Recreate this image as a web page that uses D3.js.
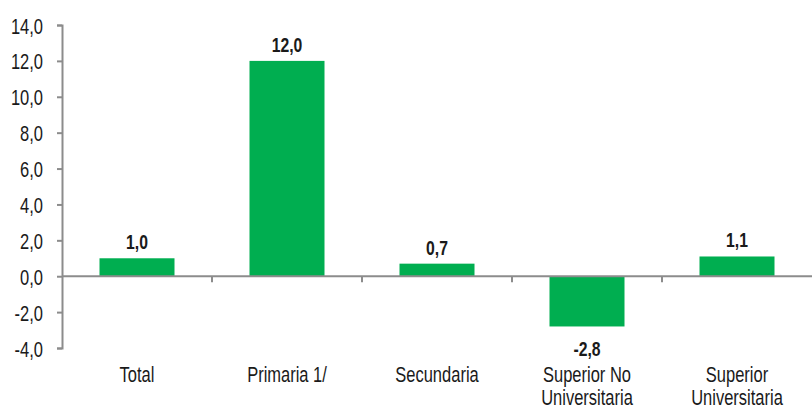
<!DOCTYPE html>
<html>
<head>
<meta charset="utf-8">
<script src="https://cdn.jsdelivr.net/npm/d3@7"></script>
<style>
  body { margin: 0; background: #fff; }
  svg text { font-family: "Liberation Sans", Arial, sans-serif; fill: #1a1a1a; }
</style>
</head>
<body>
<div id="chart"></div>
<script>
var categories = [["Total"], ["Primaria 1/"], ["Secundaria"], ["Superior No", "Universitaria"], ["Superior", "Universitaria"]];
var values = [1.0, 12.0, 0.7, -2.8, 1.1];
var yTicks = [-4, -2, 0, 2, 4, 6, 8, 10, 12, 14];

var margin = {top: 25, right: 0, bottom: 62, left: 62},
    width = 812 - margin.left - margin.right,
    height = 410 - margin.top - margin.bottom;

// narrow look: regular font squeezed horizontally
var squeeze = 0.75;
var fmt = function(v) { return d3.format(".1f")(v).replace(".", ",").replace("\u2212", "-"); };

var svg = d3.select("#chart")
  .append("svg")
    .attr("width", 812)
    .attr("height", 410)
  .append("g")
    .attr("transform", "translate(" + margin.left + "," + margin.top + ")");

var x = d3.scaleBand()
  .domain(d3.range(values.length))
  .range([0, width])
  .paddingInner(0.5)
  .paddingOuter(0.25);

var y = d3.scaleLinear()
  .domain([-4, 14])
  .range([height, 0]);

var axisColor = "#8c8c8c";

// y axis
var yAxis = svg.append("g")
  .call(d3.axisLeft(y).tickValues(yTicks).tickSize(5).tickFormat(fmt));
yAxis.select(".domain").attr("stroke", axisColor).attr("stroke-width", 2);
yAxis.selectAll(".tick line").attr("stroke", axisColor).attr("stroke-width", 2);
yAxis.selectAll(".tick text")
  .attr("x", null).attr("dy", null)
  .attr("font-size", 22)
  .attr("transform", "translate(-19,8) scale(" + squeeze + ",1)");

// bars
svg.append("g")
  .selectAll("rect")
  .data(values)
  .enter().append("rect")
    .attr("x", function(d, i) { return x(i); })
    .attr("y", function(d) { return y(Math.max(0, d)); })
    .attr("width", x.bandwidth())
    .attr("height", function(d) { return Math.abs(y(d) - y(0)); })
    .attr("fill", "#00ae50");

// zero line + category ticks
var bounds = d3.range(values.length + 1).map(function(i) { return i * x.step(); });
svg.append("line")
  .attr("x1", 0).attr("x2", width)
  .attr("y1", y(0)).attr("y2", y(0))
  .attr("stroke", axisColor).attr("stroke-width", 2);
svg.append("g")
  .selectAll("line")
  .data(bounds.slice(1, -1))
  .enter().append("line")
    .attr("x1", function(d) { return d; })
    .attr("x2", function(d) { return d; })
    .attr("y1", y(0)).attr("y2", y(0) + 6)
    .attr("stroke", axisColor).attr("stroke-width", 2);

// value labels
svg.append("g")
  .selectAll("text")
  .data(values)
  .enter().append("text")
    .attr("text-anchor", "middle")
    .attr("font-size", 21)
    .attr("font-weight", "bold")
    .attr("transform", function(d, i) {
      var ty = d >= 0 ? y(d) - 9 : y(d) + 30;
      return "translate(" + (x(i) + x.bandwidth() / 2) + "," + ty + ") scale(" + squeeze + ",1)";
    })
    .text(function(d) { return fmt(d); });

// category labels
var cat = svg.append("g")
  .selectAll("text")
  .data(categories)
  .enter().append("text")
    .attr("text-anchor", "middle")
    .attr("font-size", 22)
    .attr("transform", function(d, i) {
      return "translate(" + (x(i) + x.bandwidth() / 2) + "," + (y(-4) + 34) + ") scale(" + squeeze + ",1)";
    });
cat.selectAll("tspan")
  .data(function(d) { return d; })
  .enter().append("tspan")
    .attr("x", 0)
    .attr("dy", function(d, i) { return i === 0 ? 0 : 23; })
    .text(function(d) { return d; });
</script>
</body>
</html>
